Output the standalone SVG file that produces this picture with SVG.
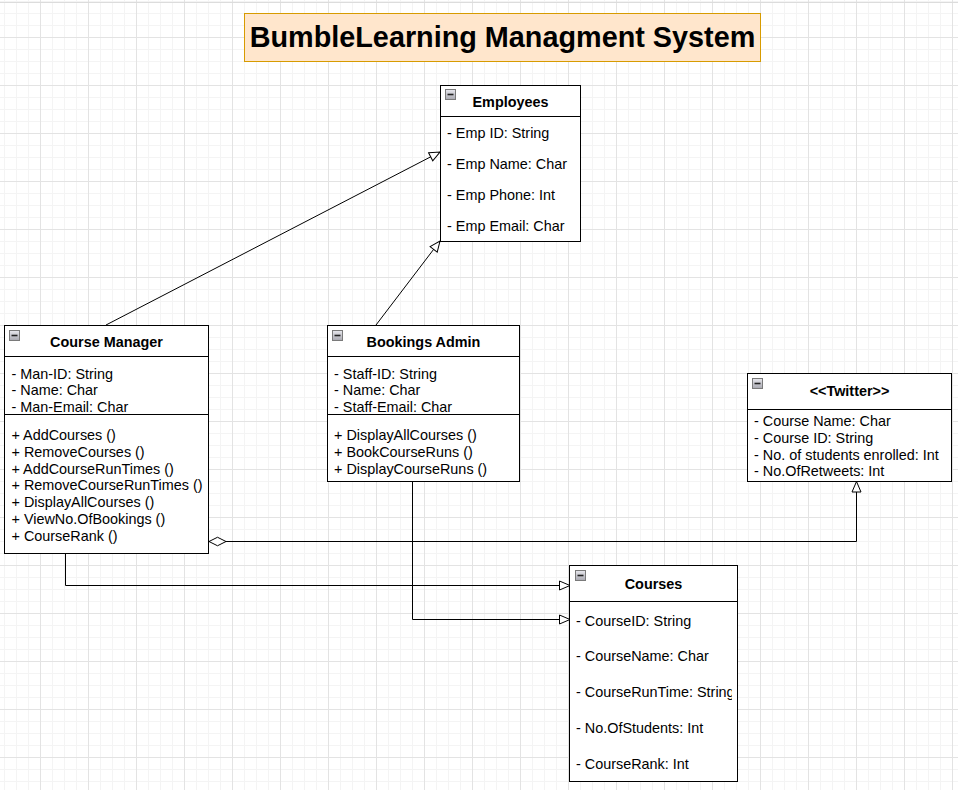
<svg xmlns="http://www.w3.org/2000/svg" width="958" height="790" viewBox="0 0 958 790">
<style>
.box{fill:#ffffff;stroke:#000000;stroke-width:1}
.div{stroke:#000000;stroke-width:1;fill:none}
.hdr{font-family:"Liberation Sans",Arial,sans-serif;font-size:14.4px;font-weight:bold;fill:#000;text-anchor:middle}
.txt{font-family:"Liberation Sans",Arial,sans-serif;font-size:14.4px;fill:#000}
.title{font-family:"Liberation Sans",Arial,sans-serif;font-size:28.8px;font-weight:bold;fill:#000;text-anchor:middle}
.edge{fill:none;stroke:#000000;stroke-width:1}
.ico{fill:url(#icoGrad);stroke:#7a7a7a;stroke-width:1}
.icoM{stroke:#222;stroke-width:1.6}
</style>
<defs>
<pattern id="grid" width="48" height="48" patternUnits="userSpaceOnUse" x="40" y="37">
<path d="M12.5,0V48M24.5,0V48M36.5,0V48M0,12.5H48M0,24.5H48M0,36.5H48" stroke="#f4f4f4" stroke-width="1" fill="none"/>
<path d="M0.5,0V48M0,0.5H48" stroke="#e3e3e3" stroke-width="1" fill="none"/>
</pattern>
<linearGradient id="icoGrad" x1="0" y1="0" x2="0" y2="1">
<stop offset="0" stop-color="#e8e8ee"/>
<stop offset="1" stop-color="#a8a8b0"/>
</linearGradient>
<marker id="tri" markerUnits="userSpaceOnUse" markerWidth="14" markerHeight="12" refX="11" refY="5" orient="auto" overflow="visible">
<path d="M0.5,0.5 L11,5 L0.5,9.5 Z" fill="#ffffff" stroke="#000000" stroke-width="1"/>
</marker>
<marker id="dia" markerUnits="userSpaceOnUse" markerWidth="19" markerHeight="11" refX="0" refY="4.75" orient="auto" overflow="visible">
<path d="M0,4.75 L8.5,0.5 L17,4.75 L8.5,9 Z" fill="#ffffff" stroke="#000000" stroke-width="1"/>
</marker>
<clipPath id="clipCourses"><rect x="570" y="600" width="162" height="181"/></clipPath>
</defs>

<rect x="0" y="0" width="958" height="790" fill="#ffffff"/>
<rect x="0" y="0" width="958" height="790" fill="url(#grid)"/>
<line x1="0" y1="2.5" x2="958" y2="2.5" stroke="#dcdcdc" stroke-width="1"/>

<g id="title">
<rect x="244.5" y="13.5" width="516" height="48" fill="#ffe6cc" stroke="#d79b00" stroke-width="1"/>
<text class="title" x="502.5" y="47">BumbleLearning Managment System</text>
</g>

<g id="connectors">
<line class="edge" x1="106" y1="325" x2="440" y2="152" marker-end="url(#tri)"/>
<line class="edge" x1="376" y1="325" x2="440" y2="241" marker-end="url(#tri)"/>
<polyline class="edge" points="65.5,553 65.5,585.5 570,585.5" marker-end="url(#tri)"/>
<polyline class="edge" points="412.5,481 412.5,619.5 570,619.5" marker-end="url(#tri)"/>
<polyline class="edge" points="209,541.5 856.5,541.5 856.5,481.5" marker-start="url(#dia)" marker-end="url(#tri)"/>
</g>

<g id="employees">
<rect class="box" x="440.5" y="85.5" width="140" height="156"/>
<line class="div" x1="440.5" y1="116.5" x2="580.5" y2="116.5"/>
<rect class="ico" x="445.5" y="89.5" width="10" height="10"/>
<line class="icoM" x1="447.5" y1="94.5" x2="453.5" y2="94.5"/>
<text class="hdr" x="510.5" y="107">Employees</text>
<text class="txt" x="447" y="138">- Emp ID: String</text>
<text class="txt" x="447" y="169">- Emp Name: Char</text>
<text class="txt" x="447" y="200">- Emp Phone: Int</text>
<text class="txt" x="447" y="231">- Emp Email: Char</text>
</g>

<g id="course-manager">
<rect class="box" x="4.5" y="325.5" width="204" height="228"/>
<line class="div" x1="4.5" y1="356.5" x2="208.5" y2="356.5"/>
<line class="div" x1="4.5" y1="414.5" x2="208.5" y2="414.5"/>
<rect class="ico" x="9.5" y="330.5" width="10" height="10"/>
<line class="icoM" x1="11.5" y1="335.5" x2="17.5" y2="335.5"/>
<text class="hdr" x="106.5" y="347">Course Manager</text>
<text class="txt" x="11.5" y="378.5">- Man-ID: String</text>
<text class="txt" x="11.5" y="395.2">- Name: Char</text>
<text class="txt" x="11.5" y="411.9">- Man-Email: Char</text>
<text class="txt" x="11.5" y="440.3">+ AddCourses ()</text>
<text class="txt" x="11.5" y="457">+ RemoveCourses ()</text>
<text class="txt" x="11.5" y="473.7">+ AddCourseRunTimes ()</text>
<text class="txt" x="11.5" y="490.4">+ RemoveCourseRunTimes ()</text>
<text class="txt" x="11.5" y="507.1">+ DisplayAllCourses ()</text>
<text class="txt" x="11.5" y="523.8">+ ViewNo.OfBookings ()</text>
<text class="txt" x="11.5" y="540.5">+ CourseRank ()</text>
</g>

<g id="bookings-admin">
<rect class="box" x="327.5" y="325.5" width="192" height="156"/>
<line class="div" x1="327.5" y1="356.5" x2="519.5" y2="356.5"/>
<line class="div" x1="327.5" y1="414.5" x2="519.5" y2="414.5"/>
<rect class="ico" x="332.5" y="330.5" width="10" height="10"/>
<line class="icoM" x1="334.5" y1="335.5" x2="340.5" y2="335.5"/>
<text class="hdr" x="423.5" y="347">Bookings Admin</text>
<text class="txt" x="334" y="378.5">- Staff-ID: String</text>
<text class="txt" x="334" y="395.2">- Name: Char</text>
<text class="txt" x="334" y="411.9">- Staff-Email: Char</text>
<text class="txt" x="334" y="440.3">+ DisplayAllCourses ()</text>
<text class="txt" x="334" y="457">+ BookCourseRuns ()</text>
<text class="txt" x="334" y="473.7">+ DisplayCourseRuns ()</text>
</g>

<g id="twitter">
<rect class="box" x="747.5" y="373.5" width="204" height="108"/>
<line class="div" x1="747.5" y1="409.5" x2="951.5" y2="409.5"/>
<rect class="ico" x="752.5" y="378.5" width="10" height="10"/>
<line class="icoM" x1="754.5" y1="383.5" x2="760.5" y2="383.5"/>
<text class="hdr" x="849.5" y="396">&lt;&lt;Twitter&gt;&gt;</text>
<text class="txt" x="754" y="426.3">- Course Name: Char</text>
<text class="txt" x="754" y="443">- Course ID: String</text>
<text class="txt" x="754" y="459.7">- No. of students enrolled: Int</text>
<text class="txt" x="754" y="476.3">- No.OfRetweets: Int</text>
</g>

<g id="courses">
<rect class="box" x="569.5" y="565.5" width="168" height="216"/>
<line class="div" x1="569.5" y1="601.5" x2="737.5" y2="601.5"/>
<rect class="ico" x="575.5" y="570.5" width="10" height="10"/>
<line class="icoM" x1="577.5" y1="575.5" x2="583.5" y2="575.5"/>
<text class="hdr" x="653.5" y="589">Courses</text>
<g clip-path="url(#clipCourses)">
<text class="txt" x="576" y="625.5">- CourseID: String</text>
<text class="txt" x="576" y="661.3">- CourseName: Char</text>
<text class="txt" x="576" y="697.2">- CourseRunTime: String</text>
<text class="txt" x="576" y="733">- No.OfStudents: Int</text>
<text class="txt" x="576" y="769">- CourseRank: Int</text>
</g>
</g>
</svg>
